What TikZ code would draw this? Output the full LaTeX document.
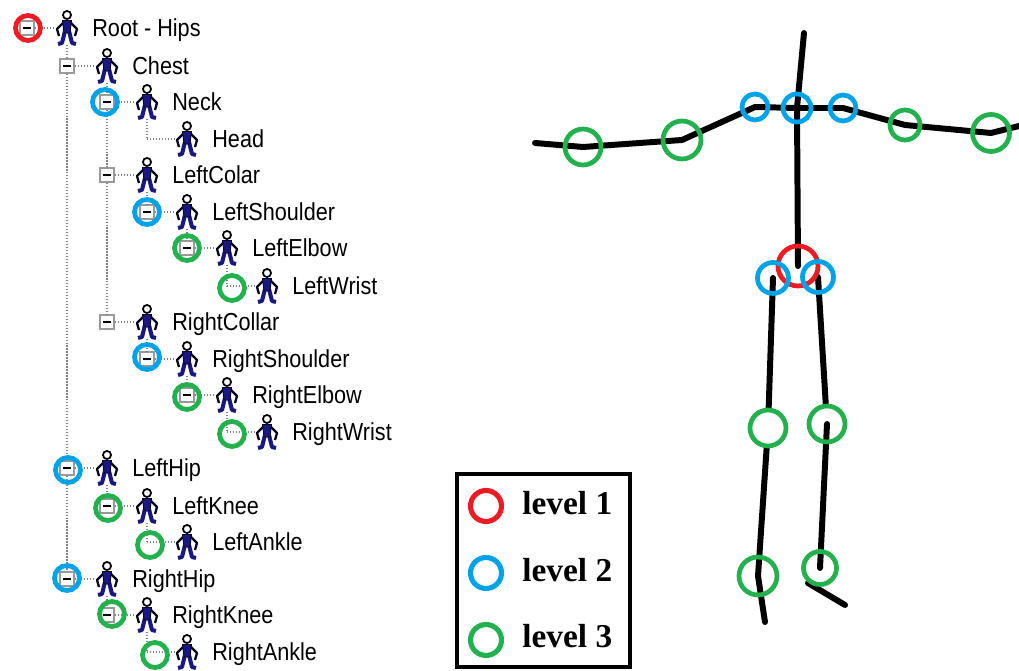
\documentclass[tikz,border=0pt]{standalone}
\usepackage{fontspec}
\usetikzlibrary{backgrounds}
\newfontfamily\treefont[FakeStretch=0.88]{Liberation Sans}
\newfontfamily\keyfont{Liberation Serif}
\definecolor{lvlred}{RGB}{237,28,36}
\definecolor{lvlblue}{RGB}{0,162,232}
\definecolor{lvlgreen}{RGB}{34,177,76}
\definecolor{iconblue}{RGB}{24,24,128}
\tikzset{
  tline/.style={densely dotted, gray, line width=0.7pt},
  xbox/.style={rectangle, draw=gray!80, fill=white, line width=0.8pt,
    minimum size=0.28cm, inner sep=0,
    path picture={\draw[black, line width=1.2pt]
      ([xshift=-2.3pt]path picture bounding box.center) --
      ([xshift=2.3pt]path picture bounding box.center);}},
  manbox/.style={minimum width=0.5cm, minimum height=0.66cm, inner sep=0},
  lbl/.style={anchor=west, inner sep=0, text height=11pt, text depth=1pt,
    font=\treefont\fontsize{14}{16}\selectfont},
  keylbl/.style={anchor=base west, inner sep=0,
    font=\keyfont\bfseries\fontsize{19}{22}\selectfont},
  ring/.style={circle, draw=#1, line width=2.7pt, inner sep=0, minimum size=0.5cm},
  bone/.style={line width=3.4pt, line cap=round, line join=round},
  stickman/.pic={
    % arms
    \draw[black!80!iconblue, line width=1.3pt, line join=round]
      (-3,-6) -- (-10,1) -- (-8,8) (3,-6) -- (10,1) -- (8,8);
    % legs and feet
    \draw[iconblue, line width=2.3pt, line join=round]
      (-2,3) -- (-5,15) -- (-9,16) (2,3) -- (5,15) -- (9,16);
    % body
    \filldraw[iconblue, draw=black!80!iconblue, line width=0.5pt]
      (-4.5,-7.5) -- (4.5,-7.5) -- (3,5) -- (-3,5) -- cycle;
    \draw[black, line width=1pt, fill=white] (0,-13) circle (2.3pt);
  }
}
\begin{document}
\begin{tikzpicture}[x=0.02cm, y=-0.02cm]
  \useasboundingbox (0,0) rectangle (1019,671);
  % one line of the joint tree: name, depth, row, text
  \def\treerow#1#2#3#4{
    \node[xbox] (b#1) at (27+40*#2,#3) {};
    \node[manbox] (m#1) at (67+40*#2,#3) {};
    \pic at (m#1) {stickman};
    \node[lbl] (t#1) at (92+40*#2,#3) {#4};
    \draw[tline] (b#1) -- (m#1);
  }
  % end joints have no expander box
  \def\treeleaf#1#2#3#4{
    \coordinate (b#1) at (27+40*#2,#3);
    \node[manbox] (m#1) at (67+40*#2,#3) {};
    \pic at (m#1) {stickman};
    \node[lbl] (t#1) at (92+40*#2,#3) {#4};
    \draw[tline] (b#1) -- (m#1);
  }
  \treerow{Root}{0}{28}{Root - Hips}
  \treerow{Chest}{1}{66}{Chest}
  \treerow{Neck}{2}{102}{Neck}
  \treeleaf{Head}{3}{139}{Head}
  \treerow{LCol}{2}{175}{LeftColar}
  \treerow{LSho}{3}{212}{LeftShoulder}
  \treerow{LElb}{4}{248}{LeftElbow}
  \treeleaf{LWri}{5}{286}{LeftWrist}
  \treerow{RCol}{2}{322}{RightCollar}
  \treerow{RSho}{3}{359}{RightShoulder}
  \treerow{RElb}{4}{395}{RightElbow}
  \treeleaf{RWri}{5}{432}{RightWrist}
  \treerow{LHip}{1}{468}{LeftHip}
  \treerow{LKne}{2}{506}{LeftKnee}
  \treeleaf{LAnk}{3}{542}{LeftAnkle}
  \treerow{RHip}{1}{579}{RightHip}
  \treerow{RKne}{2}{615}{RightKnee}
  \treeleaf{RAnk}{3}{652}{RightAnkle}

  \draw[tline] (mRoot) -- (bChest) -- (bLHip) -- (bRHip);
  \draw[tline] (mChest) -- (bNeck) -- (bLCol) -- (bRCol);
  \draw[tline] (mNeck) -- (bHead);
  \draw[tline] (mLCol) -- (bLSho);
  \draw[tline] (mLSho) -- (bLElb);
  \draw[tline] (mLElb) -- (bLWri);
  \draw[tline] (mRCol) -- (bRSho);
  \draw[tline] (mRSho) -- (bRElb);
  \draw[tline] (mRElb) -- (bRWri);
  \draw[tline] (mLHip) -- (bLKne);
  \draw[tline] (mLKne) -- (bLAnk);
  \draw[tline] (mRHip) -- (bRKne);
  \draw[tline] (mRKne) -- (bRAnk);

  % level rings on the tree
  \node[ring=lvlred] (kRoot) at (28,28) {};
  \node[ring=lvlblue] (kNeck) at (105,102) {};
  \node[ring=lvlblue] (kLSho) at (147,212) {};
  \node[ring=lvlblue] (kRSho) at (147,357) {};
  \node[ring=lvlblue] (kLHip) at (68,470) {};
  \node[ring=lvlblue] (kRHip) at (67,578) {};
  \node[ring=lvlgreen] (kLElb) at (187,248) {};
  \node[ring=lvlgreen] (kLWri) at (232,288) {};
  \node[ring=lvlgreen] (kRElb) at (187,397) {};
  \node[ring=lvlgreen] (kRWri) at (232,434) {};
  \node[ring=lvlgreen] (kLKne) at (108,508) {};
  \node[ring=lvlgreen] (kLAnk) at (150,545) {};
  \node[ring=lvlgreen] (kRKne) at (112,614) {};
  \node[ring=lvlgreen] (kRAnk) at (155,655) {};

  % legend
  \draw[line width=2.3pt] (457,474) rectangle (630,667);
  \node[ring=lvlred, minimum size=0.62cm, line width=2.9pt] (key1) at (486,506) {};
  \node[ring=lvlblue, minimum size=0.62cm, line width=2.9pt] (key2) at (486,573) {};
  \node[ring=lvlgreen, minimum size=0.62cm, line width=2.9pt] (key3) at (486,640) {};
  \node[keylbl] (txt1) at (522,515) {level 1};
  \node[keylbl] (txt2) at (522,582) {level 2};
  \node[keylbl] (txt3) at (522,648) {level 3};

  % skeleton joints
  \coordinate (top) at (804,33);
  \coordinate (handL) at (535,143);
  \coordinate (handR) at (1019,126);
  \coordinate (footL) at (765,622);
  \coordinate (heelR) at (808,583);
  \coordinate (footR) at (845,605);
  \node[ring=lvlblue, minimum size=0.56cm] (neck) at (797,108) {};
  \node[ring=lvlblue, minimum size=0.52cm] (lsh) at (755,107) {};
  \node[ring=lvlblue, minimum size=0.52cm] (rsh) at (843,108) {};
  \node[ring=lvlgreen, minimum size=0.76cm] (lel) at (682,140) {};
  \node[ring=lvlgreen, minimum size=0.72cm] (lwr) at (583,147) {};
  \node[ring=lvlgreen, minimum size=0.6cm] (rel) at (905,125) {};
  \node[ring=lvlgreen, minimum size=0.74cm] (rwr) at (991,133) {};
  \node[ring=lvlred, minimum size=0.8cm] (hip) at (798,266) {};
  \node[ring=lvlblue, minimum size=0.62cm] (lhip) at (773,278) {};
  \node[ring=lvlblue, minimum size=0.62cm] (rhip) at (818,277) {};
  \node[ring=lvlgreen, minimum size=0.72cm] (lkn) at (768,428) {};
  \node[ring=lvlgreen, minimum size=0.72cm] (rkn) at (827,424) {};
  \node[ring=lvlgreen, minimum size=0.76cm] (lan) at (758,576) {};
  \node[ring=lvlgreen, minimum size=0.66cm] (ran) at (820,568) {};

  \begin{scope}[on background layer]
    \draw[bone] (top) -- (neck.center) -- (hip.center);
    \draw[bone] (handL) -- (lwr.center) -- (lel.center) -- (lsh.center)
      -- (neck.center) -- (rsh.center) -- (rel.center) -- (rwr.center) -- (handR);
    \draw[bone] (lhip.center) -- (lkn);
    \draw[bone] (lkn) -- (lan.center) -- (footL);
    \draw[bone] (rhip.center) -- (rkn);
    \draw[bone] (rkn.center) -- (ran.center);
    \draw[bone] (heelR) -- (footR);
  \end{scope}
\end{tikzpicture}
\end{document}
